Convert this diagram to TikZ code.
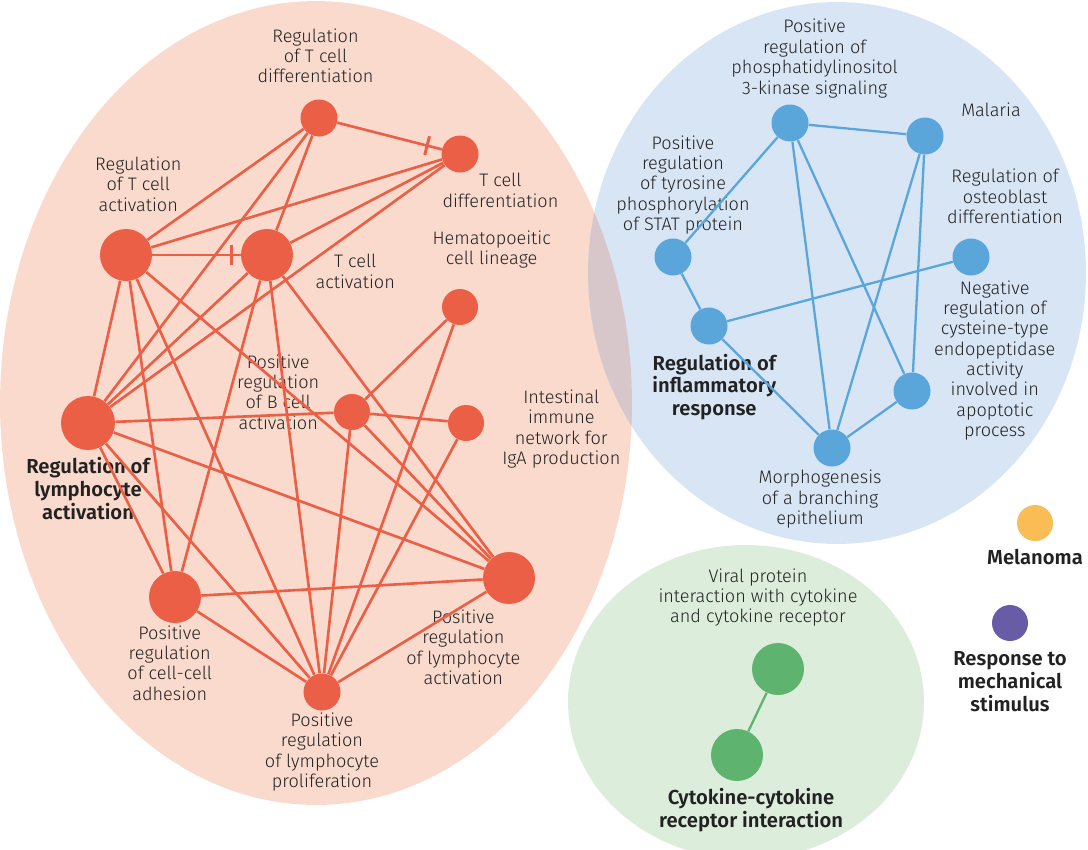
\documentclass[tikz,border=0pt]{standalone}
\usepackage{fontspec}
\setmainfont{Fira Sans}[UprightFont=* Light, BoldFont=* SemiBold]
\usetikzlibrary{positioning}

\definecolor{redbg}{HTML}{FADACD}
\definecolor{bluebg}{HTML}{D8E5F5}
\definecolor{mixbg}{HTML}{D7C7CA}
\definecolor{greenbg}{HTML}{DDEDDC}
\definecolor{rednode}{HTML}{EA5F45}
\definecolor{bluenode}{HTML}{5AA5DA}
\definecolor{greennode}{HTML}{5EB46F}
\definecolor{orangenode}{HTML}{FABC55}
\definecolor{purplenode}{HTML}{685CA6}
\definecolor{txtc}{HTML}{222222}

\begin{document}
\begin{tikzpicture}[
  x=0.02cm, y=-0.02cm,
  rn/.style={circle, inner sep=0, fill=rednode, minimum size=#1},
  rn/.default=7.4mm,
  bn/.style={circle, inner sep=0, fill=bluenode, minimum size=7.4mm},
  gn/.style={circle, inner sep=0, fill=greennode, minimum size=10.4mm},
  lbl/.style={align=center, text=txtc, inner sep=0, font=\fontsize{10.3}{11.6}\selectfont},
  blbl/.style={lbl, font=\bfseries\fontsize{11.5}{12.9}\selectfont},
  redge/.style={draw=rednode, line width=1.5pt},
  bedge/.style={draw=bluenode, line width=1.3pt},
  gedge/.style={draw=greennode, line width=1.3pt},
  inh/.style={sloped, fill=rednode, inner sep=0, minimum width=1.7pt, minimum height=11pt}
]
\useasboundingbox (0,0) rectangle (1088,849);

% Cluster backgrounds
\fill[redbg] (316,403) ellipse [x radius=6.32cm, y radius=8.04cm];
\fill[bluebg] (837,273) ellipse [x radius=4.98cm, y radius=5.42cm];
\begin{scope}
  \clip (316,403) ellipse [x radius=6.32cm, y radius=8.04cm];
  \fill[mixbg] (837,273) ellipse [x radius=4.98cm, y radius=5.42cm];
\end{scope}
\fill[greenbg] (746,702) ellipse [x radius=3.56cm, y radius=3.14cm];

% Lymphocyte cluster
\node[rn] (rtd) at (319,118) {};
\node[rn] (td) at (460,154) {};
\node[rn=10.4mm] (rta) at (126,255) {};
\node[rn=10.4mm] (ta) at (267,255) {};
\node[rn=7.2mm] (hcl) at (460,307) {};
\node[rn=7.2mm] (prba) at (352,412) {};
\node[rn=7.2mm] (iin) at (466,423) {};
\node[rn=10.8mm] (rla) at (88,423) {};
\node[rn=10.4mm] (prca) at (175,597) {};
\node[rn=10.4mm] (prla) at (509,578) {};
\node[rn] (prlp) at (322,692) {};

\node[lbl, above=9pt of rtd, xshift=-2pt] (rtd-l) {Regulation\\of T cell\\differentiation};
\node[lbl, below=0pt of td, xshift=23pt] (td-l) {T cell\\differentiation};
\node[lbl, above=9.7pt of rta, xshift=7pt] (rta-l) {Regulation\\of T cell\\activation};
\node[lbl, right=12.5pt of ta, yshift=-9.4pt] (ta-l) {T cell\\activation};
\node[lbl, above=11.4pt of hcl, xshift=18pt] (hcl-l) {Hematopoeitic\\cell lineage};
\node[lbl, left=8pt of prba, yshift=11.4pt] (prba-l) {Positive\\regulation\\of B cell\\activation};
\node[lbl, right=10pt of iin, yshift=-3.4pt] (iin-l) {Intestinal\\immune\\network for\\IgA production};
\node[blbl, below=4pt of rla] (rla-l) {Regulation of\\lymphocyte\\activation};
\node[lbl, below=1pt of prca, xshift=-3pt] (prca-l) {Positive\\regulation\\of cell-cell\\adhesion};
\node[lbl, below=3pt of prla, xshift=-26pt] (prla-l) {Positive\\regulation\\of lymphocyte\\activation};
\node[lbl, below=1pt of prlp] (prlp-l) {Positive\\regulation\\of lymphocyte\\proliferation};

% Inflammatory cluster
\node[bn] (pi3k) at (790,123) {};
\node[bn] (mal) at (925,136) {};
\node[bn] (stat) at (673,257) {};
\node[bn] (ost) at (971,257) {};
\node[bn] (inf) at (709,326) {};
\node[bn] (neg) at (912,391) {};
\node[bn] (mor) at (832,448) {};

\node[lbl, above=3.4pt of pi3k, xshift=14pt] (pi3k-l) {Positive\\regulation of\\phosphatidylinositol\\3-kinase signaling};
\node[lbl, right=9.7pt of mal, yshift=14.8pt] (mal-l) {Malaria};
\node[lbl, above=2pt of stat, xshift=5.7pt] (stat-l) {Positive\\regulation\\of tyrosine\\phosphorylation\\of STAT protein};
\node[lbl, above=8pt of ost, xshift=19.4pt] (ost-l) {Regulation of\\osteoblast\\differentiation};
\node[lbl, right=1.7pt of neg, yshift=17.4pt] (neg-l) {Negative\\regulation of\\cysteine-type\\endopeptidase\\activity\\involved in\\apoptotic\\process};
\node[blbl, below=5pt of inf, xshift=3pt] (inf-l) {Regulation of\\inflammatory\\response};
\node[lbl, below=1.7pt of mor, xshift=-6.8pt] (mor-l) {Morphogenesis\\of a branching\\epithelium};

% Cytokine cluster
\node[gn] (vir) at (778,669) {};
\node[gn] (cyt) at (737,755) {};
\node[lbl, above=9pt of vir, xshift=-11.4pt] (vir-l) {Viral protein\\interaction with cytokine\\and cytokine receptor};
\node[blbl, below=4pt of cyt, xshift=8pt] (cyt-l) {Cytokine-cytokine\\receptor interaction};

% Single terms
\node[circle, inner sep=0, fill=orangenode, minimum size=7.2mm] (mel) at (1035,523) {};
\node[circle, inner sep=0, fill=purplenode, minimum size=7.2mm] (res) at (1010,623) {};
\node[blbl, below=4.5pt of mel] (mel-l) {Melanoma};
\node[blbl, below=5.7pt of res] (res-l) {Response to\\mechanical\\stimulus};

% Red edges
\draw[redge] (rtd) -- node[inh, pos=.86] (bar1) {} (td);
\draw[redge] (rta) -- node[inh, pos=.9] (bar2) {} (ta);
\draw[redge] (rtd) -- (rta);
\draw[redge] (rtd) -- (ta);
\draw[redge] (rtd) -- (rla);
\draw[redge] (td) -- (rta);
\draw[redge] (td) -- (ta);
\draw[redge] (td) -- (rla);

\draw[redge] (rta) -- (rla);
\draw[redge] (rta) -- (prca);
\draw[redge] (rta) -- (prlp);
\draw[redge] (rta) -- (prla);
\draw[redge] (ta) -- (rla);
\draw[redge] (ta) -- (prca);
\draw[redge] (ta) -- (prlp);
\draw[redge] (ta) -- (prla);

\draw[redge] (rla) -- (prba);
\draw[redge] (rla) -- (prca);
\draw[redge] (rla) -- (prlp);
\draw[redge] (rla) -- (prla);
\draw[redge] (prba) -- (iin);
\draw[redge] (prba) -- (hcl);
\draw[redge] (prba) -- (prlp);
\draw[redge] (prba) -- (prla);
\draw[redge] (hcl) -- (prlp);
\draw[redge] (iin) -- (prlp);

\draw[redge] (prca) -- (prla);
\draw[redge] (prca) -- (prlp);
\draw[redge] (prla) -- (prlp);

% Blue edges
\draw[bedge] (pi3k) -- (mal);
\draw[bedge] (pi3k) -- (stat);
\draw[bedge] (pi3k) -- (mor);
\draw[bedge] (pi3k) -- (neg);
\draw[bedge] (mal) -- (mor);
\draw[bedge] (mal) -- (neg);
\draw[bedge] (stat) -- (inf);
\draw[bedge] (inf) -- (ost);
\draw[bedge] (inf) -- (mor);
\draw[bedge] (mor) -- (neg);

% Green edge
\draw[gedge] (vir) -- (cyt);

\end{tikzpicture}
\end{document}
